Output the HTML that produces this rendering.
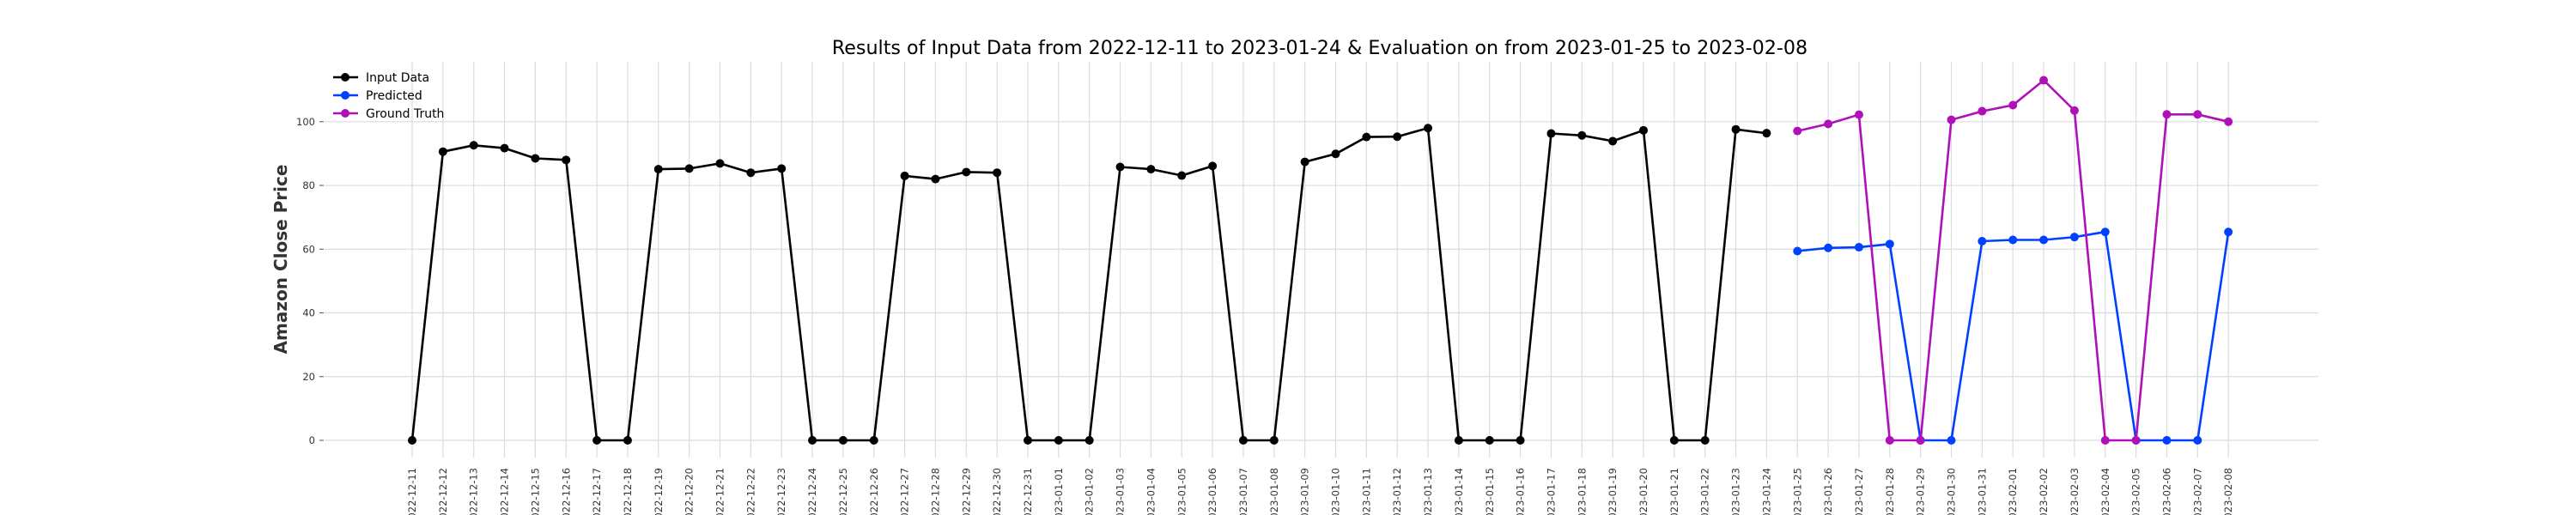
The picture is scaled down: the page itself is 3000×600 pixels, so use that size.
<!DOCTYPE html>
<html><head><meta charset="utf-8"><style>
html,body{margin:0;padding:0;background:#fff;overflow:hidden;}
svg{display:block;font-family:"DejaVu Sans","Liberation Sans",sans-serif;}
</style></head><body>
<svg id="chart" width="3000" height="600" viewBox="0 0 3000 600" xmlns="http://www.w3.org/2000/svg">
<text x="1537" y="63" font-size="22.2" text-anchor="middle" fill="#000">Results of Input Data from 2022-12-11 to 2023-01-24 &amp; Evaluation on from 2023-01-25 to 2023-02-08</text>
<text transform="translate(334,302) rotate(-90)" font-size="20" font-weight="bold" text-anchor="middle" fill="#333">Amazon Close Price</text>
<g id="grid"></g>
<g id="yaxis"></g>
<g id="xaxis"></g>
<g id="series"></g>
<g id="legend"></g>
</svg>
<script>
const inputDates = ["2022-12-11","2022-12-12","2022-12-13","2022-12-14","2022-12-15","2022-12-16","2022-12-17","2022-12-18","2022-12-19","2022-12-20","2022-12-21","2022-12-22","2022-12-23","2022-12-24","2022-12-25","2022-12-26","2022-12-27","2022-12-28","2022-12-29","2022-12-30","2022-12-31","2023-01-01","2023-01-02","2023-01-03","2023-01-04","2023-01-05","2023-01-06","2023-01-07","2023-01-08","2023-01-09","2023-01-10","2023-01-11","2023-01-12","2023-01-13","2023-01-14","2023-01-15","2023-01-16","2023-01-17","2023-01-18","2023-01-19","2023-01-20","2023-01-21","2023-01-22","2023-01-23","2023-01-24"];
const inputValues = [0,90.6,92.6,91.7,88.5,88.0,0,0,85.1,85.3,86.9,84.0,85.3,0,0,0,83.0,82.0,84.2,84.0,0,0,0,85.8,85.1,83.1,86.1,0,0,87.4,89.9,95.2,95.3,98.0,0,0,0,96.3,95.7,93.9,97.3,0,0,97.6,96.4];
const evalDates = ["2023-01-25","2023-01-26","2023-01-27","2023-01-28","2023-01-29","2023-01-30","2023-01-31","2023-02-01","2023-02-02","2023-02-03","2023-02-04","2023-02-05","2023-02-06","2023-02-07","2023-02-08"];
const predictedValues = [59.4,60.4,60.6,61.6,0,0,62.5,62.9,62.9,63.8,65.4,0,0,0,65.4];
const groundTruthValues = [97.1,99.3,102.2,0,0,100.6,103.3,105.2,113.0,103.5,0,0,102.3,102.3,100.0];
const yTicks = [0,20,40,60,80,100];

const NS="http://www.w3.org/2000/svg";
function mk(tag,attrs,parent){const e=document.createElementNS(NS,tag);for(const k in attrs)e.setAttribute(k,attrs[k]);parent.appendChild(e);return e;}
const yScale=v=>513-v*3.712;
const xIdx=i=>480+i*35.85;
const xInput=i=>xIdx(i);
const xEval=j=>xIdx(inputDates.length+j);
const grid=document.getElementById('grid'),yaxis=document.getElementById('yaxis'),xaxis=document.getElementById('xaxis'),series=document.getElementById('series'),legend=document.getElementById('legend');

yTicks.forEach(t=>{
  const y=yScale(t);
  const g=mk('line',{x1:378,x2:2700,y1:y,y2:y,stroke:'#dcdcdc','stroke-width':1.2},grid);
  
  
  const tk=mk('line',{x1:372,x2:377,y1:y,y2:y,stroke:'#555','stroke-width':1},yaxis);
  
  
  const tx=mk('text',{x:367,y:y+4,'font-size':11.5,'text-anchor':'end',fill:'#333'},yaxis);
  tx.textContent=t;
  
  
});
function xTick(x,label){
  const g=mk('line',{x1:x,x2:x,y1:72,y2:533,stroke:'#dcdcdc','stroke-width':1.2},grid);
  
  
  const tx=mk('text',{transform:`translate(${x+4},545) rotate(-90)`,'font-size':11.5,'text-anchor':'end',fill:'#333'},xaxis);
  tx.textContent=label;
  
  
}
inputDates.forEach((d,i)=>xTick(xInput(i),d));
evalDates.forEach((d,j)=>xTick(xEval(j),d));

function drawSeries(vals,xf,color,name){
  const g=mk('g',{},series);
  
  
  const pts=vals.map((v,i)=>xf(i).toFixed(1)+','+yScale(v).toFixed(1)).join(' ');
  const pl=mk('polyline',{points:pts,fill:'none',stroke:color,'stroke-width':2.6,'stroke-linejoin':'round'},g);
  
  
  vals.forEach((v,i)=>{
    const c=mk('circle',{cx:xf(i),cy:yScale(v),r:5,fill:color},g);
    
    
  });
}
drawSeries(inputValues,xInput,'#000000','input-data');
drawSeries(predictedValues,xEval,'#0040ff','predicted');
drawSeries(groundTruthValues,xEval,'#b010b8','ground-truth');

[['Input Data','#000000'],['Predicted','#0040ff'],['Ground Truth','#b010b8']].forEach((e,k)=>{
  const y=90+k*21;
  const g=mk('g',{},legend);
  
  
  mk('line',{x1:388,x2:417,y1:y,y2:y,stroke:e[1],'stroke-width':2.6},g);
  mk('circle',{cx:402,cy:y,r:5,fill:e[1]},g);
  const t=mk('text',{x:426,y:y+5,'font-size':14,fill:'#000'},g);
  t.textContent=e[0];
});
</script>
</body></html>
